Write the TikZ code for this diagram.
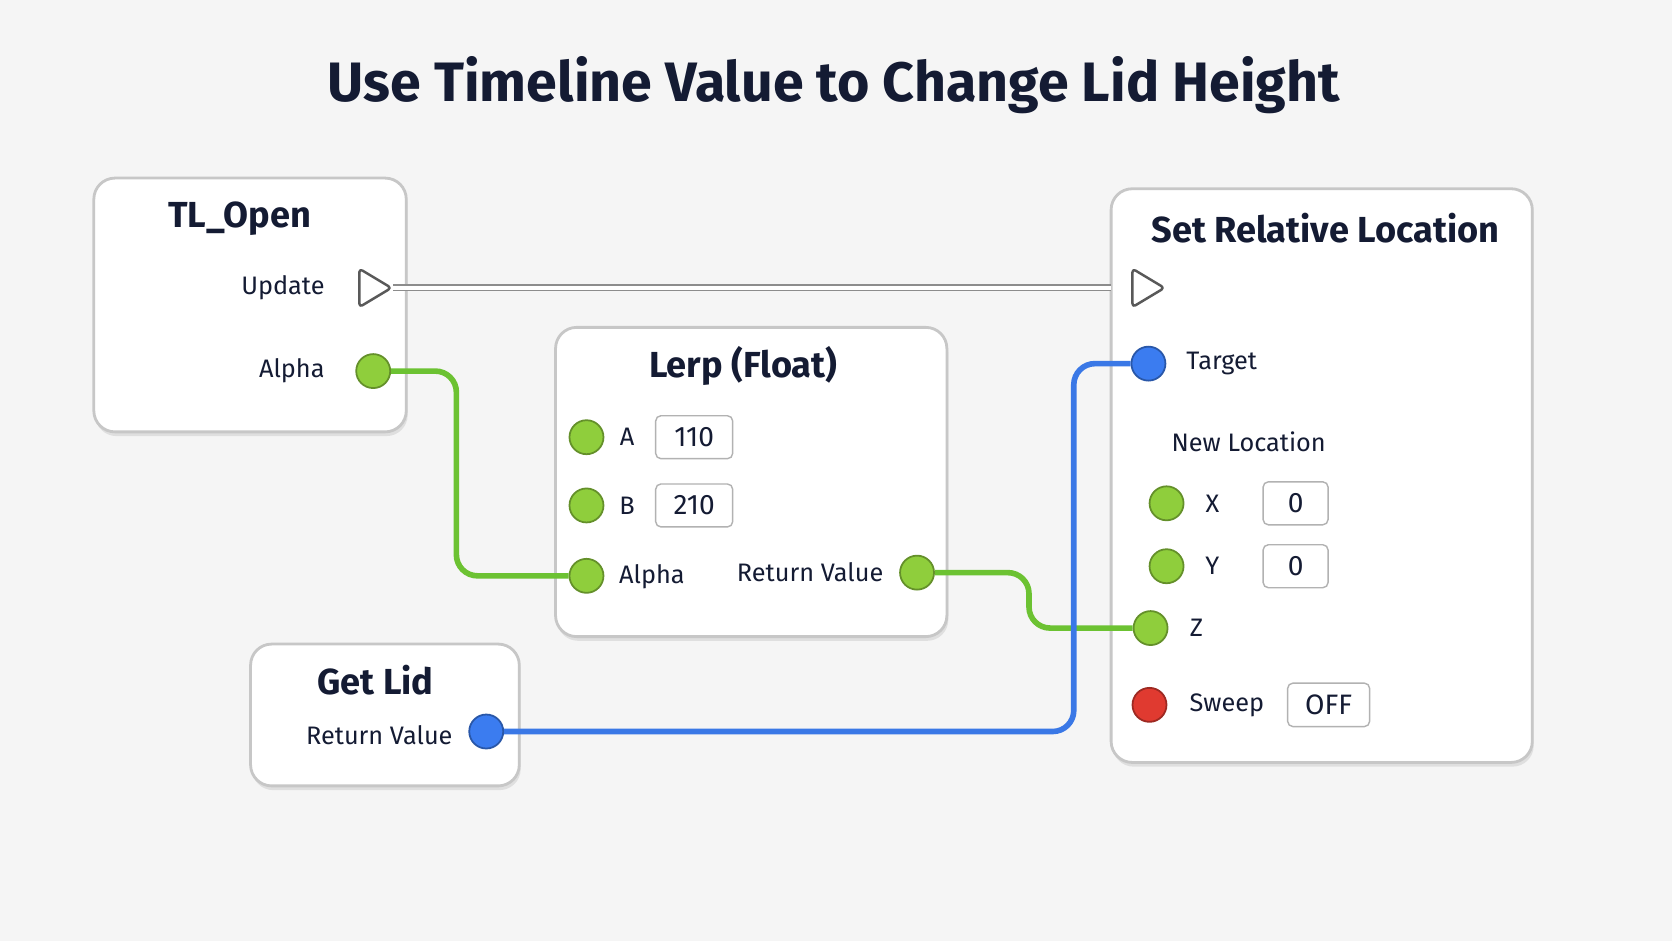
\documentclass[tikz,border=0pt]{standalone}
\usepackage{fontspec}
\setmainfont{Fira Sans}
\usetikzlibrary{shadows}
\definecolor{BG}{HTML}{f5f5f5}
\definecolor{INK}{HTML}{141b33}
\definecolor{PinG}{HTML}{8fce3c}
\definecolor{PinB}{HTML}{3b7cf0}
\definecolor{PinR}{HTML}{e03a30}
\definecolor{WireG}{HTML}{6cc232}
\definecolor{WireB}{HTML}{3a78e6}
\tikzset{
  box/.style={draw=black!22, fill=white, rounded corners=6pt, line width=0.8pt, drop shadow={opacity=0.18, shadow xshift=0.4pt, shadow yshift=-1.2pt}},
  ttl/.style={text=INK, font=\fontsize{10.3}{12}\selectfont\bfseries},
  lbl/.style={text=INK, inner sep=0pt, font=\fontsize{7.2}{9}\selectfont},
  pin/.style={circle, draw=#1!70!black, fill=#1, minimum size=0.34cm, inner sep=0pt, line width=0.5pt},
  val/.style={draw=black!30, fill=white, rounded corners=1.5pt, minimum height=0.43cm, text=INK, font=\fontsize{8}{10}\selectfont},
  exec/.style={draw=black!65, fill=white, line width=0.7pt, line join=round, rounded corners=1pt},
  wire/.style={line width=1.6pt, rounded corners=6pt},
}
\begin{document}
\begin{tikzpicture}[x=0.010663cm, y=-0.010663cm]%
\fill[BG] (0,0) rectangle (1568,882);%
\useasboundingbox (0,0) rectangle (1568,882);%
\node[text=INK, font=\fontsize{15.8}{19}\selectfont\bfseries] (title) at (782,80) {Use Timeline Value to Change Lid Height};%
% TL_Open
\draw[box] (88,167) rectangle (381,405);%
\node[ttl] (tlT) at (225,205) {TL\_Open};%
\node[lbl, anchor=east] (tlU) at (305,270) {Update};%
\coordinate (tlE) at (369,270);%
\draw[exec] (337,252) -- (337,288) -- (367,270) -- cycle;%
\node[lbl, anchor=east] (tlA) at (305,348) {Alpha};%
\node[pin=PinG] (tlAp) at (350,348) {};%
% Lerp
\draw[box] (521,307) rectangle (888,597);%
\node[ttl] (lpT) at (697,343) {Lerp (Float)};%
\node[pin=PinG] (lpA) at (550,410) {};%
\node[lbl] (lpAt) at (588,410) {A};%
\node[val, minimum width=0.77cm] (lpAv) at (651,410) {110};%
\node[pin=PinG] (lpB) at (550,474) {};%
\node[lbl] (lpBt) at (588,474) {B};%
\node[val, minimum width=0.77cm] (lpBv) at (651,474) {210};%
\node[pin=PinG] (lpAl) at (550,540) {};%
\node[lbl, anchor=west] (lpAlt) at (580,541) {Alpha};%
\node[lbl, anchor=east] (lpRt) at (829,537) {Return Value};%
\node[pin=PinG] (lpR) at (860,537) {};%
% Get Lid
\draw[box] (235,604) rectangle (487,737);%
\node[ttl] (glT) at (352,638) {Get Lid};%
\node[lbl, anchor=east] (glRt) at (425,689) {Return Value};%
\node[pin=PinB] (glR) at (456,686) {};%
% Set Relative Location
\draw[box] (1042,177) rectangle (1437,715);%
\node[ttl] (srT) at (1243,214) {Set Relative Location};%
\coordinate (srE) at (1062,270);%
\draw[exec] (1062,252) -- (1062,288) -- (1092,270) -- cycle;%
\node[pin=PinB] (srTg) at (1077,341) {};%
\node[lbl, anchor=west] (srTgt) at (1112,341) {Target};%
\node[lbl] (srNL) at (1171,414) {New Location};%
\node[pin=PinG] (srX) at (1094,472) {};%
\node[lbl] (srXt) at (1137,472) {X};%
\node[val, minimum width=0.65cm] (srXv) at (1215,472) {0};%
\node[pin=PinG] (srY) at (1094,531) {};%
\node[lbl] (srYt) at (1137,531) {Y};%
\node[val, minimum width=0.65cm] (srYv) at (1215,531) {0};%
\node[pin=PinG] (srZ) at (1079,589) {};%
\node[lbl] (srZt) at (1122,589) {Z};%
\node[pin=PinR] (srS) at (1078,661) {};%
\node[lbl, anchor=west] (srSt) at (1115,661) {Sweep};%
\node[val, minimum width=0.82cm] (srSv) at (1246,661) {OFF};%
% wires
\draw[black!45, double=white, double distance=1pt, line width=0.5pt] (tlE) -- (1042,270);%
\draw[wire, WireG] (tlAp.east) -- (428,348) -- (428,540) -- (lpAl.west);%
\draw[wire, WireG] (lpR.east) -- (965,537) -- (965,589) -- (srZ.west);%
\draw[wire, WireB] (glR.east) -- (1007,686) -- (1007,341) -- (srTg.west);%
\end{tikzpicture}
\end{document}
